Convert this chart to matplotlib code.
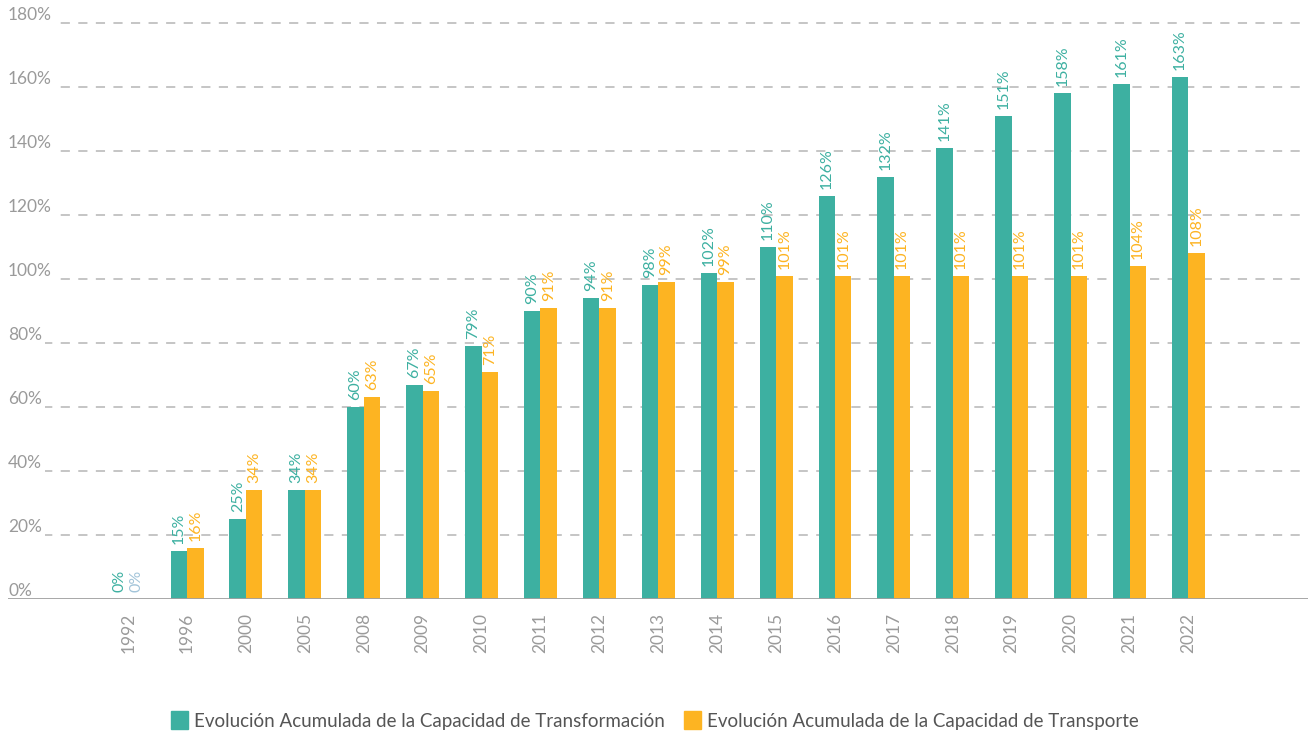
import numpy as np
import matplotlib.pyplot as plt
from matplotlib.patches import Patch

years = ['1992', '1996', '2000', '2005', '2008', '2009', '2010', '2011', '2012', '2013',
         '2014', '2015', '2016', '2017', '2018', '2019', '2020', '2021', '2022']
transformacion = [0, 15, 25, 34, 60, 67, 79, 90, 94, 98, 102, 110, 126, 132, 141, 151, 158, 161, 163]
transporte = [0, 16, 34, 34, 63, 65, 71, 91, 91, 99, 99, 101, 101, 101, 101, 101, 101, 104, 108]
y_ticks = [0, 20, 40, 60, 80, 100, 120, 140, 160, 180]
legend_labels = ['Evolución Acumulada de la Capacidad de Transformación',
                 'Evolución Acumulada de la Capacidad de Transporte']

TEAL = '#3db0a1'
ORANGE = '#fdb422'
GRAY = '#9a9a9a'

plt.rcParams['font.family'] = ['Lato', 'DejaVu Sans']

fig = plt.figure(figsize=(13.1, 7.34), dpi=100)
ax = fig.add_axes([8 / 1310, 1 - 599 / 734, 1300 / 1310, (599 - 23) / 734])

x = np.arange(len(years))
w = 0.28
ax.bar(x - w / 2, transformacion, w, color=TEAL, zorder=2)
ax.bar(x + w / 2, transporte, w, color=ORANGE, zorder=2)

# etiquetas de valor sobre cada barra
for i in range(len(years)):
	ax.annotate('%d%%' % transformacion[i], (x[i] - w / 2, transformacion[i]), xytext=(0, 5),
				textcoords='offset points', rotation=90, ha='center', va='bottom',
				color=TEAL, fontsize=11.5)
	c = ORANGE if transporte[i] > 0 else '#a2c4d9'
	ax.annotate('%d%%' % transporte[i], (x[i] + w / 2, transporte[i]), xytext=(0, 5),
				textcoords='offset points', rotation=90, ha='center', va='bottom',
				color=c, fontsize=11.5)

xmin, xmax = -2.04, 20.03
ax.set_xlim(xmin, xmax)
ax.set_ylim(0, 180)

for t in y_ticks:
	if t == 0:
		ax.axhline(0, color='#a0a0a0', lw=1.3, zorder=5)
		ax.text(xmin, t, '0%', ha='left', va='bottom', color=GRAY, fontsize=12.5, zorder=6)
	else:
		ax.axhline(t, color='#b5b5b5', lw=1.1, dashes=(6, 5.5), zorder=1, clip_on=False)
		ax.text(xmin, t, '%d%%' % t, ha='left', va='bottom', color=GRAY, fontsize=12.5, zorder=3,
				bbox=dict(fc='white', ec='none', pad=2.5))

for s in ax.spines.values():
	s.set_visible(False)
ax.set_yticks([])
ax.set_xticks(x)
ax.set_xticklabels(years, rotation=90, color=GRAY, fontsize=12.5)
ax.tick_params(axis='x', length=0, pad=10)

handles = [Patch(color=TEAL), Patch(color=ORANGE)]
fig.legend(handles, legend_labels, loc='lower center', bbox_to_anchor=(0.5, -0.017), ncol=2,
		   frameon=False, handlelength=0.9, handleheight=1.1, handletextpad=0.35,
		   columnspacing=1.0, fontsize=13.5, labelcolor='#555555')

plt.savefig('out.png', dpi=100)
